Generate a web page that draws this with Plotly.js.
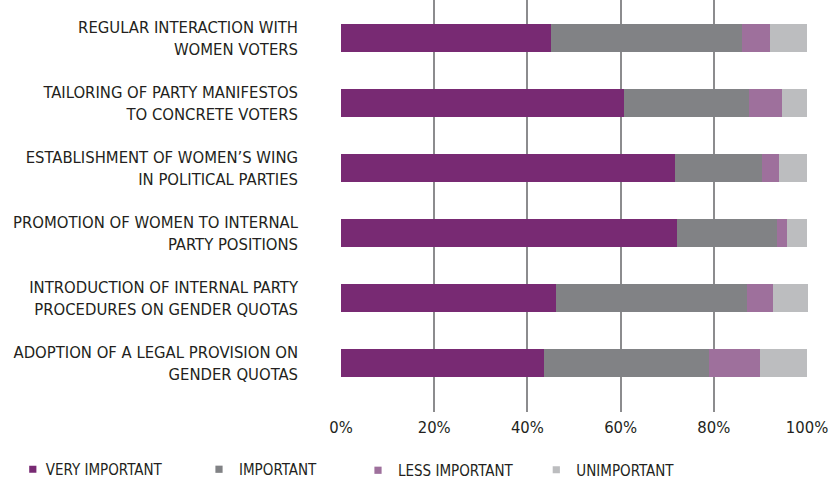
<!DOCTYPE html>
<html>
<head>
<meta charset="utf-8">
<script src="https://cdn.plot.ly/plotly-3.0.1.min.js"></script>
<style>html,body{margin:0;padding:0;background:#fff;}#chart{width:832px;height:480px;}</style>
</head>
<body>
<div id="chart"></div>
<script>
const categories = [
  "REGULAR INTERACTION WITH<br>WOMEN VOTERS",
  "TAILORING OF PARTY MANIFESTOS<br>TO CONCRETE VOTERS",
  "ESTABLISHMENT OF WOMEN’S WING<br>IN POLITICAL PARTIES",
  "PROMOTION OF WOMEN TO INTERNAL<br>PARTY POSITIONS",
  "INTRODUCTION OF INTERNAL PARTY<br>PROCEDURES ON GENDER QUOTAS",
  "ADOPTION OF A LEGAL PROVISION ON<br>GENDER QUOTAS"
];
const seriesNames = ["VERY IMPORTANT", "IMPORTANT", "LESS IMPORTANT", "UNIMPORTANT"];
const veryImportant = [45.0, 60.7, 71.6, 72.1, 46.1, 43.5];
const important     = [41.0, 26.9, 18.7, 21.4, 41.0, 35.4];
const lessImportant = [6.0, 7.0, 3.6, 2.1, 5.5, 10.9];
const unimportant   = [8.0, 5.4, 6.1, 4.4, 7.5, 10.2];
const xTickVals = [0, 20, 40, 60, 80, 100];
const xTickText = ["0%", "20%", "40%", "60%", "80%", "100%"];

const colors = ["#782a73", "#818285", "#9e709c", "#bcbdbf"];
const values = [veryImportant, important, lessImportant, unimportant];
const legendIds = ["legend", "legend2", "legend3", "legend4"];
const FONT = "'Liberation Sans Narrow', 'DejaVu Sans Condensed', 'Liberation Sans', sans-serif";

const traces = values.map((v, i) => ({
  type: "bar",
  orientation: "h",
  name: seriesNames[i],
  x: v,
  y: categories,
  marker: {color: colors[i], line: {width: 0}},
  legend: legendIds[i],
  hoverinfo: "x+name"
}));

const legendXpx = [12.8, 199, 358, 536.3];
const legendYpx = [469.5, 469.5, 470.5, 470];

const layout = {
  width: 832, height: 480,
  margin: {l: 341, r: 24, t: 0, b: 68},
  paper_bgcolor: "#ffffff",
  plot_bgcolor: "#ffffff",
  barmode: "stack",
  bargap: 0.57,
  font: {family: FONT, color: "#231f20"},
  xaxis: {
    range: [0, 100.2],
    tickvals: xTickVals,
    ticktext: xTickText,
    showgrid: true,
    gridcolor: "#8c8c8e",
    gridwidth: 2,
    zeroline: false,
    showline: false,
    ticks: "",
    ticklabelstandoff: 3,
    tickfont: {family: FONT, size: 16.5, color: "#231f20"},
    fixedrange: true
  },
  yaxis: {
    type: "category",
    range: [5.75, -0.585],
    showgrid: false,
    zeroline: false,
    showline: false,
    ticks: "",
    ticklabelstandoff: 42,
    tickfont: {family: FONT, size: 16.5, color: "#231f20"},
    fixedrange: true
  },
  showlegend: true
};
legendIds.forEach((k, i) => {
  layout[k] = {
    x: legendXpx[i] / 832, y: (480 - legendYpx[i]) / 480,
    xref: "container", yref: "container",
    xanchor: "left", yanchor: "middle",
    orientation: "h",
    font: {family: FONT, size: 15, color: "#231f20"},
    bgcolor: "rgba(0,0,0,0)",
    itemwidth: 30
  };
});

Plotly.newPlot("chart", traces, layout, {displayModeBar: false, staticPlot: true}).then(() => {
  // tighten legend entries: smaller square, text closer to it
  document.querySelectorAll("#chart .legendpoints path").forEach(p => {
    p.setAttribute("d", "M3.6,3.6H-3.6V-3.6H3.6Z");
  });
  document.querySelectorAll("#chart .legendtext").forEach(t => {
    t.setAttribute("x", 33);
  });
});
</script>
</body>
</html>
